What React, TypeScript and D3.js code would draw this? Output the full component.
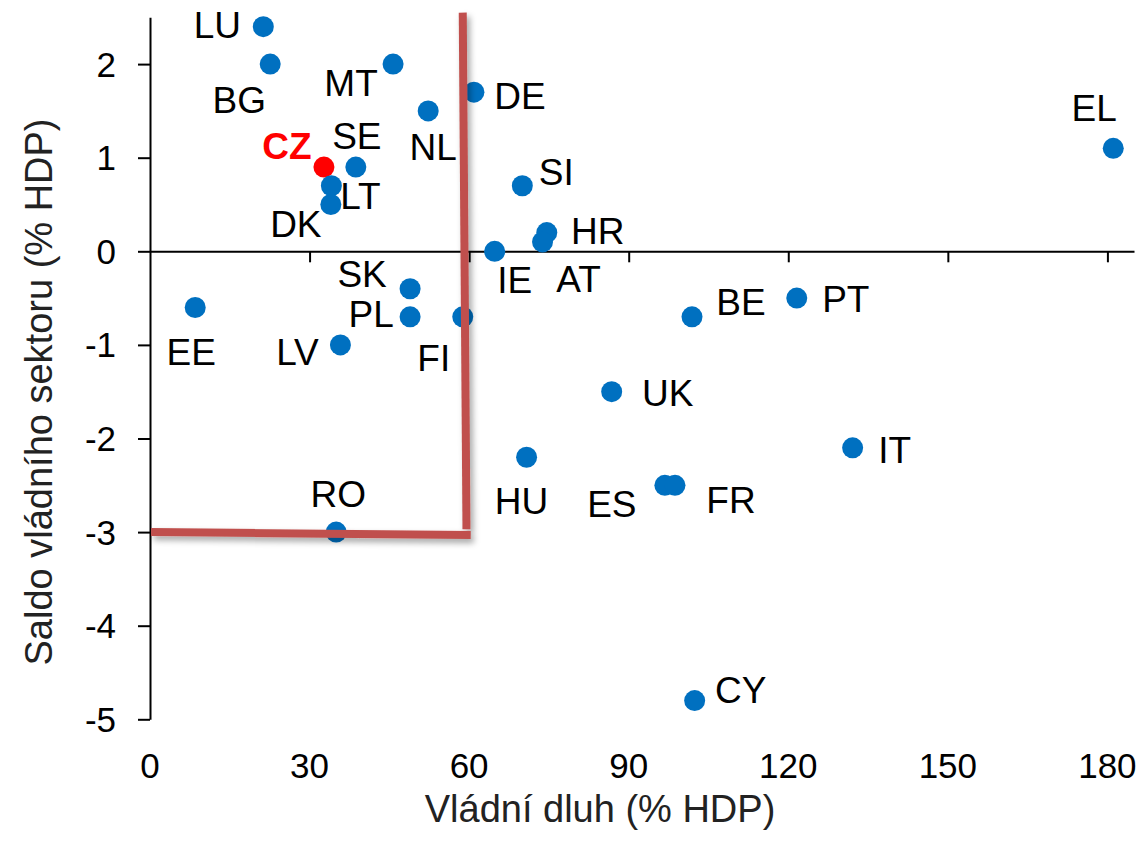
import { useRef, useEffect } from 'react';
import * as d3 from 'd3';

const FONT = '"Liberation Sans", Arial, sans-serif';
const DOT = '#0070C0';
const HIGHLIGHT = '#FF0000';
const LIMIT = '#C0504D';

// Country codes, government debt (% GDP) and budget balance (% GDP)
const countries = ['LU', 'BG', 'MT', 'NL', 'DE', 'CZ', 'SE', 'LT', 'DK', 'SI', 'HR', 'AT', 'IE', 'SK', 'PL', 'FI', 'EE', 'LV', 'RO', 'BE', 'PT', 'UK', 'HU', 'ES', 'FR', 'IT', 'CY', 'EL'];
const debt = [21.3, 22.6, 45.7, 52.3, 60.9, 32.7, 38.7, 34.1, 34.0, 70.0, 74.6, 73.8, 64.8, 48.9, 48.9, 58.8, 8.5, 35.8, 35.0, 101.9, 121.6, 86.8, 70.8, 96.8, 98.7, 132.1, 102.4, 181.1];
const balance = [2.4, 2.0, 2.0, 1.5, 1.7, 0.9, 0.9, 0.7, 0.5, 0.7, 0.2, 0.1, 0.0, -0.4, -0.7, -0.7, -0.6, -1.0, -3.0, -0.7, -0.5, -1.5, -2.2, -2.5, -2.5, -2.1, -4.8, 1.1];

const xTicks = [0, 30, 60, 90, 120, 150, 180];
const yTicks = [-5, -4, -3, -2, -1, 0, 1, 2];

// Hand-drawn Maastricht limit lines (60 % debt, -3 % deficit), in data units
const limitVertical: [number, number][] = [[58.8, 2.55], [59.5, -2.97]];
const limitHorizontal: [number, number][] = [[0.2, -3.0], [60.3, -3.03]];

// Label placement: pixel offset of the label centre from its dot
const labelOffset: Record<string, [number, number]> = {
  LU: [-46, -2], BG: [-31, 36], MT: [-42, 19], NL: [5, 36], DE: [46, 4],
  CZ: [-37, -21], SE: [1, -31], LT: [29, 10], DK: [-35, 19], SI: [34, -14],
  HR: [51, -2], AT: [36, 37], IE: [20, 29], SK: [-48, -15], PL: [-39, -3],
  FI: [-29, 41], EE: [-4, 45], LV: [-43, 7], RO: [2, -38], BE: [49, -15],
  PT: [49, 1], UK: [56, 1], HU: [-5, 44], ES: [-53, 19], FR: [56, 15],
  IT: [42, 2], CY: [46, -11], EL: [-19, -40],
};

const W = 1146;
const H = 847;

export default function App() {
  const svgRef = useRef<SVGSVGElement>(null);

  useEffect(() => {
    const svg = d3.select(svgRef.current);
    svg.selectAll('*').remove();

    const x = d3.scaleLinear().domain([0, 185]).range([150, 1134]);
    const y = d3.scaleLinear().domain([-5, 2.5]).range([719.3, 17.3]);

    const defs = svg.append('defs');
    const f = defs.append('filter').attr('id', 'shadow')
      .attr('x', '-10%').attr('y', '-10%').attr('width', '130%').attr('height', '130%');
    f.append('feDropShadow')
      .attr('dx', 3).attr('dy', 4).attr('stdDeviation', 3)
      .attr('flood-color', '#000').attr('flood-opacity', 0.35);

    svg.append('rect').attr('width', W).attr('height', H).attr('fill', '#fff');

    // Y axis
    svg.append('g')
      .attr('transform', `translate(${x(0)},0)`)
      .call(d3.axisLeft(y).tickValues(yTicks).tickSize(12).tickSizeOuter(0).tickFormat(() => ''))
      .call(sel => {
        sel.select('.domain').attr('stroke', '#000').attr('stroke-width', 2);
        sel.selectAll('line').attr('stroke', '#000').attr('stroke-width', 2);
      });

    // X axis drawn through zero
    svg.append('g')
      .attr('transform', `translate(0,${y(0)})`)
      .call(d3.axisBottom(x).tickValues(xTicks.filter(t => t > 0)).tickSize(11).tickSizeOuter(0).tickFormat(() => ''))
      .call(sel => {
        sel.select('.domain').attr('stroke', '#000').attr('stroke-width', 2);
        sel.selectAll('line').attr('stroke', '#000').attr('stroke-width', 2);
      });

    // Tick labels
    svg.append('g').selectAll('text').data(yTicks).join('text')
      .attr('x', 116).attr('y', d => y(d) + 12.5)
      .attr('text-anchor', 'end')
      .attr('font-family', FONT).attr('font-size', 35)
      .text(d => String(d));

    svg.append('g').selectAll('text').data(xTicks).join('text')
      .attr('x', d => x(d)).attr('y', 778)
      .attr('text-anchor', 'middle')
      .attr('font-family', FONT).attr('font-size', 35)
      .text(d => String(d));

    // Axis titles
    svg.append('text')
      .attr('x', 600).attr('y', 822)
      .attr('text-anchor', 'middle')
      .attr('font-family', FONT).attr('font-size', 38)
      .attr('fill', '#222')
      .text('Vládní dluh (% HDP)');

    svg.append('text')
      .attr('transform', `translate(52,392) rotate(-90)`)
      .attr('text-anchor', 'middle')
      .attr('font-family', FONT).attr('font-size', 38)
      .attr('fill', '#222')
      .text('Saldo vládního sektoru (% HDP)');

    // Dots
    const pts = countries.map((c, i) => ({ c, dx: debt[i], b: balance[i] }));
    svg.append('g').selectAll('circle').data(pts).join('circle')
      .attr('cx', d => x(d.dx)).attr('cy', d => y(d.b))
      .attr('r', 10.5)
      .attr('fill', d => (d.c === 'CZ' ? HIGHLIGHT : DOT));

    // Limit lines with shadow
    const line = d3.line<[number, number]>().x(d => x(d[0])).y(d => y(d[1]));
    const lim = svg.append('g').attr('filter', 'url(#shadow)');
    lim.append('path').attr('d', line(limitHorizontal)).attr('stroke', LIMIT).attr('stroke-width', 8).attr('fill', 'none');
    lim.append('path').attr('d', line(limitVertical)).attr('stroke', LIMIT).attr('stroke-width', 8).attr('fill', 'none');

    // Labels
    svg.append('g').selectAll('text').data(pts).join('text')
      .attr('x', d => x(d.dx) + labelOffset[d.c][0])
      .attr('y', d => y(d.b) + labelOffset[d.c][1] + 13)
      .attr('text-anchor', 'middle')
      .attr('font-family', FONT).attr('font-size', 37)
      .attr('font-weight', d => (d.c === 'CZ' ? 'bold' : 'normal'))
      .attr('fill', d => (d.c === 'CZ' ? HIGHLIGHT : '#000'))
      .text(d => d.c);
  }, []);

  return (
    <svg
      ref={svgRef}
      width={W}
      height={H}
      style={{ position: 'absolute', left: 0, top: 0, display: 'block' }}
    />
  );
}
